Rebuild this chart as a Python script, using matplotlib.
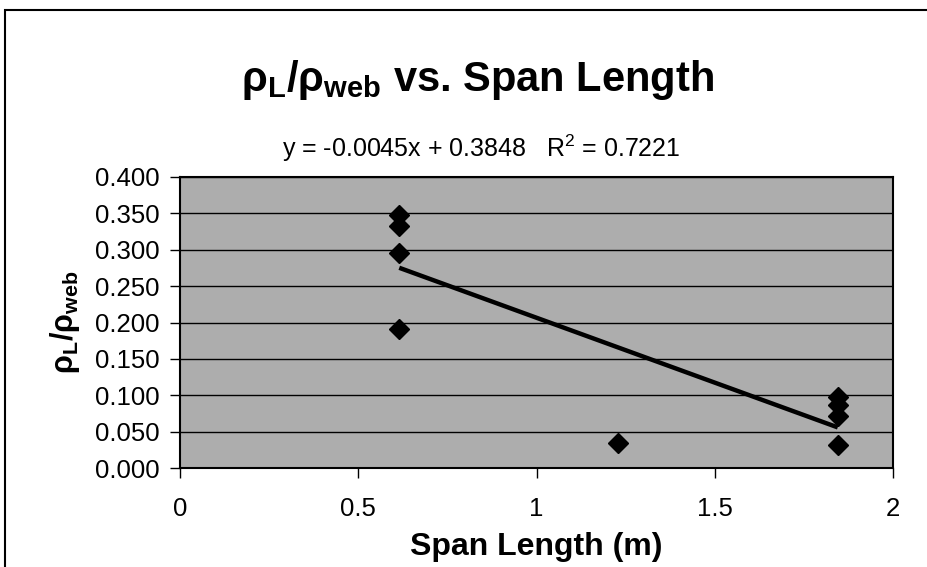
import numpy as np
import matplotlib
matplotlib.use("Agg")
import matplotlib.pyplot as plt
from matplotlib.patches import Rectangle

# Data
span_m = [0.615, 0.615, 0.615, 0.615, 1.228, 1.845, 1.845, 1.845, 1.845]
ratio = [0.348, 0.332, 0.296, 0.191, 0.034, 0.098, 0.087, 0.072, 0.032]
x_ticks = [0, 0.5, 1, 1.5, 2]
y_ticks = [0.0, 0.05, 0.10, 0.15, 0.20, 0.25, 0.30, 0.35, 0.40]
equation_text = "y = -0.0045x + 0.3848   R$^2$ = 0.7221"

plt.rcParams['font.family'] = ['Liberation Sans', 'DejaVu Sans']
plt.rcParams['mathtext.fontset'] = 'custom'
plt.rcParams['mathtext.rm'] = 'Liberation Sans'
plt.rcParams['mathtext.it'] = 'Liberation Sans:italic'
plt.rcParams['mathtext.bf'] = 'Liberation Sans:bold'

fig = plt.figure(figsize=(9.27, 5.67), dpi=100)
W, H = 927, 567
ax = fig.add_axes([180 / W, 1 - 468 / H, (893 - 180) / W, (468 - 177) / H])
ax.set_facecolor('#adadad')

ax.set_yticks(y_ticks)
ax.set_xticks(x_ticks)
ax.set_xlim(0, 2)
ax.set_ylim(0, 0.4)
ax.yaxis.grid(True, color='black', linewidth=1.0)
ax.set_axisbelow(True)
ax.set_yticklabels([f"{v:.3f}" for v in y_ticks], fontsize=18.5)
ax.set_xticklabels([f"{v:g}" for v in x_ticks], fontsize=18.5)
ax.tick_params(axis='y', direction='out', length=7, width=1, pad=8)
ax.tick_params(axis='x', direction='out', length=7, width=1, pad=14)
for s in ax.spines.values():
    s.set_linewidth(1.5)
    s.set_color('black')

# scatter points
ax.plot(span_m, ratio, linestyle='none', marker='D', ms=10, color='black', zorder=3)

# linear trendline
coef = np.polyfit(span_m, ratio, 1)
xs = np.array([min(span_m), max(span_m)])
ax.plot(xs, np.polyval(coef, xs), color='black', linewidth=3.2, zorder=4,
        solid_capstyle='butt')

ax.set_xlabel('Span Length (m)', fontsize=23, fontweight='bold', labelpad=8)
ax.set_ylabel(r'$\mathbf{\rho_L/\rho_{web}}$', fontsize=22, labelpad=9)

fig.text(478 / W, 1 - 80 / H, r'$\mathbf{\rho_L/\rho_{web}}$ vs. Span Length',
         fontsize=30, fontweight='bold', ha='center', va='center')
fig.text(481 / W, 1 - 148 / H, equation_text, fontsize=18, ha='center', va='center')

# outer frame
fig.patches.append(Rectangle((5 / W, -0.05), (W + 5) / W, 1.05 - 10 / H, transform=fig.transFigure,
                             fill=False, edgecolor='black', linewidth=1.5))

fig.savefig('out.png', dpi=100)
